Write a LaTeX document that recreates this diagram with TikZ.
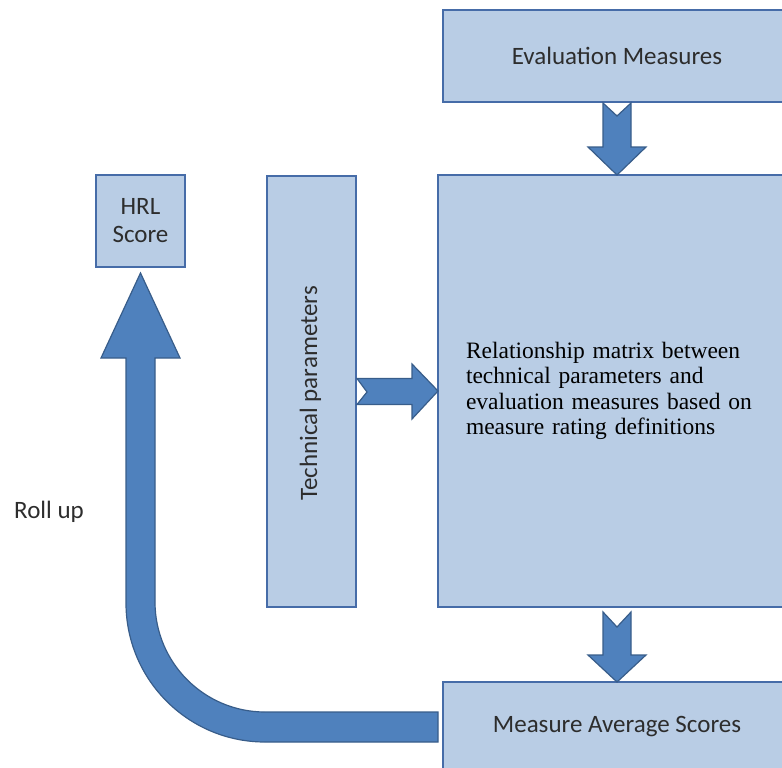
\documentclass[tikz,border=0pt]{standalone}
\usepackage{fontspec}
\setmainfont{Carlito}
\newfontfamily\serifrm{Liberation Serif}
\usetikzlibrary{calc}
\definecolor{boxfill}{RGB}{185,205,229}
\definecolor{boxline}{RGB}{70,108,168}
\definecolor{arrfill}{RGB}{79,129,189}
\definecolor{arrline}{RGB}{56,93,138}
\definecolor{txtgray}{RGB}{45,45,45}

\begin{document}
\begin{tikzpicture}[x=1pt,y=-1pt,
  box/.style={draw=boxline,fill=boxfill,line width=1.6pt,inner sep=0pt,outer sep=0pt,
    text=txtgray,font=\fontsize{25}{28}\selectfont},
  fat/.style={draw=arrline,fill=arrfill,line width=1.2pt,line join=miter}]
\useasboundingbox (0,0) rectangle (782,768);
\clip (0,0) rectangle (782,768);
\node[box,minimum width=348pt,minimum height=92pt] (evalm) at (617,56) {Evaluation Measures};
\node[box,minimum height=432pt,text width=302pt,inner xsep=28pt,align=left,text=black,
  font=\serifrm\fontsize{23.5}{25.5}\selectfont] (relmat) at (617,391)
  {Relationship matrix between\\technical parameters  and\\evaluation measures based on\\measure rating definitions};
\node[box,minimum width=89pt,minimum height=431pt] (techpar) at (311.5,391.5) {};
\node[rotate=90,text=txtgray,font=\fontsize{25}{28}\selectfont] (techtxt) at ($(techpar)+(-1,2)$) {Technical parameters};
\node[box,minimum width=89pt,minimum height=92pt,align=center] (hrl) at (140.5,221) {HRL\\Score};
\node[box,minimum width=348pt,minimum height=90pt] (avgscore) at (617,727) {Measure Average Scores};
\node[text=txtgray,font=\fontsize{25}{28}\selectfont] (rollup) at (49,512) {Roll up};
% block arrows
\draw[fat] ($(evalm.south)+(0,14)$) -- ++(14,-13) -- ++(0,44) -- ++(15,0) -- (relmat.north)
  -- ++(-29,-28) -- ++(15,0) -- ++(0,-44) -- cycle;
\draw[fat] ($(techpar.east)+(11,0.5)$) -- ++(-10,-13.5) -- ++(55,0) -- ++(0,-14.5) -- (relmat.west)
  -- ++(-26,28) -- ++(0,-14.5) -- ++(-55,0) -- cycle;
\draw[fat] ($(relmat.south)+(0,20)$) -- ++(14,-15) -- ++(0,43) -- ++(15,0) -- (avgscore.north)
  -- ++(-29,-27) -- ++(15,0) -- ++(0,-43) -- cycle;
\draw[fat] ($(avgscore.west)+(-5,-15)$) -- ++(-173,0) arc[start angle=90,end angle=180,radius=110]
  -- ($(hrl.south)+(14.5,91)$) -- ++(25,0) -- ($(hrl.south)+(0,6)$) -- ++(-39.5,85) -- ++(25,0)
  -- ++(0,245) arc[start angle=180,end angle=90,radius=139] -- ($(avgscore.west)+(-5,15)$) -- cycle;
\end{tikzpicture}
\end{document}
